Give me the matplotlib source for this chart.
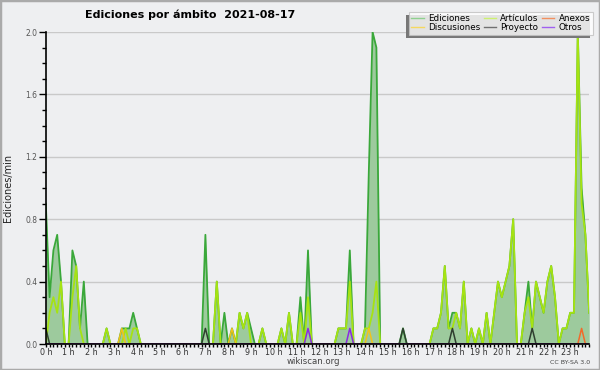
import numpy as np
import matplotlib
matplotlib.use("Agg")
import matplotlib.pyplot as plt
from matplotlib.lines import Line2D
from matplotlib.patches import Rectangle
from matplotlib.ticker import MultipleLocator, FixedLocator

# 10-minute buckets, edits per minute
ediciones = [
    0.9, 0.3, 0.6, 0.7, 0.4, 0, 0, 0.6, 0.5, 0.1, 0.4, 0,       # 0 h - 1 h 50
    0, 0, 0, 0, 0.1, 0, 0, 0, 0.1, 0.1, 0.1, 0.2,               # 2 h - 3 h 50
    0.1, 0, 0, 0, 0, 0, 0, 0, 0, 0, 0, 0,                       # 4 h - 5 h 50
    0, 0, 0, 0, 0, 0, 0.7, 0, 0, 0.4, 0, 0.2,                   # 6 h - 7 h 50
    0, 0.1, 0, 0.2, 0.1, 0.2, 0.1, 0, 0, 0.1, 0, 0,             # 8 h - 9 h 50
    0, 0, 0.1, 0, 0.2, 0, 0, 0.3, 0, 0.6, 0, 0,                 # 10 h - 11 h 50
    0, 0, 0, 0, 0, 0.1, 0.1, 0.1, 0.6, 0, 0, 0,                 # 12 h - 13 h 50
    0.1, 1.1, 2.0, 1.9, 0, 0, 0, 0, 0, 0, 0.1, 0,               # 14 h - 15 h 50
    0, 0, 0, 0, 0, 0, 0.1, 0.1, 0.2, 0.5, 0.1, 0.2,             # 16 h - 17 h 50
    0.2, 0.1, 0.4, 0, 0.1, 0, 0.1, 0, 0.2, 0, 0.2, 0.4,         # 18 h - 19 h 50
    0.3, 0.4, 0.5, 0.8, 0, 0, 0.2, 0.4, 0.1, 0.4, 0.3, 0.2,     # 20 h - 21 h 50
    0.4, 0.5, 0.3, 0, 0.1, 0.1, 0.2, 0.2, 2.0, 1.0, 0.7, 0.2,   # 22 h - 23 h 50
]
articulos = [
    0, 0.2, 0.3, 0.2, 0.4, 0, 0, 0.3, 0.5, 0.1, 0, 0,
    0, 0, 0, 0, 0.1, 0, 0, 0, 0, 0.1, 0, 0.1,
    0.1, 0, 0, 0, 0, 0, 0, 0, 0, 0, 0, 0,
    0, 0, 0, 0, 0, 0, 0, 0, 0, 0.4, 0, 0,
    0, 0, 0, 0.2, 0.1, 0.2, 0, 0, 0, 0.1, 0, 0,
    0, 0, 0.1, 0, 0.2, 0, 0, 0.2, 0, 0.3, 0, 0,
    0, 0, 0, 0, 0, 0.1, 0.1, 0.1, 0.4, 0, 0, 0,
    0.1, 0.1, 0.2, 0.4, 0, 0, 0, 0, 0, 0, 0, 0,
    0, 0, 0, 0, 0, 0, 0.1, 0.1, 0.2, 0.5, 0.1, 0.1,
    0.2, 0.1, 0.4, 0, 0.1, 0, 0.1, 0, 0.2, 0, 0.2, 0.4,
    0.3, 0.4, 0.5, 0.8, 0, 0, 0.2, 0.3, 0.1, 0.4, 0.3, 0.2,
    0.4, 0.5, 0.3, 0, 0.1, 0.1, 0.2, 0.2, 2.0, 0.9, 0.7, 0.2,
]
# sparse series: {bucket index: value}
discusiones = {20: 0.1, 49: 0.1, 85: 0.1}
proyecto = {0: 0.1, 42: 0.1, 94: 0.1, 107: 0.1, 128: 0.1}
anexos = {141: 0.1}
otros = {69: 0.1, 80: 0.1}

hour_labels = ["%d h" % h for h in range(24)]
title = "Ediciones por ámbito  2021-08-17"

bg = "#eeeff1"
c_edic = "#3aa83a"
c_fill = "#9dca9d"
c_art = "#a6e312"
c_disc = "#f2c21a"
c_proy = "#2f3f2f"
c_anex = "#f26a2a"
c_otros = "#8a2be2"


def sparse(d):
    a = np.zeros(144)
    for k, v in d.items():
        a[k] = v
    return a


t = np.arange(144) / 6.0

fig = plt.figure(figsize=(6, 3.7), dpi=100, facecolor=bg)
ax = fig.add_axes([45.8 / 600, 26 / 370, (589.2 - 45.8) / 600, 312 / 370])
ax.set_facecolor(bg)

ax.fill_between(t, 0, ediciones, color=c_fill, lw=0, zorder=2)
ax.plot(t, ediciones, color=c_edic, lw=1.3, zorder=3)
ax.plot(t, articulos, color=c_art, lw=1.3, zorder=4)
ax.plot(t, sparse(discusiones), color=c_disc, lw=1.1, zorder=5)
ax.plot(t, sparse(proyecto), color=c_proy, lw=1.1, zorder=5)
ax.plot(t, sparse(anexos), color=c_anex, lw=1.1, zorder=5)
ax.plot(t, sparse(otros), color=c_otros, lw=1.1, zorder=5)

ax.set_xlim(0, 143 / 6.0)
ax.set_ylim(0, 2.0)

for s in ["top", "right"]:
    ax.spines[s].set_visible(False)
for s in ["left", "bottom"]:
    ax.spines[s].set_color("black")
    ax.spines[s].set_linewidth(1.2)
    ax.spines[s].set_zorder(6)

yt = np.arange(0, 2.01, 0.4)
ax.yaxis.set_major_locator(FixedLocator(yt))
ax.set_yticklabels(["%.1f" % v for v in yt])
ax.yaxis.set_minor_locator(MultipleLocator(0.1))
ax.grid(axis="y", which="major", color="#c9c9c9", lw=1, zorder=1)
ax.set_axisbelow(True)

ax.xaxis.set_major_locator(FixedLocator(range(24)))
ax.set_xticklabels(hour_labels)
ax.xaxis.set_minor_locator(MultipleLocator(1 / 6.0))

ax.tick_params(axis="y", which="major", length=5, width=1, labelsize=5.5,
               labelcolor="#555555", pad=1)
ax.tick_params(axis="y", which="minor", length=3, width=1)
ax.tick_params(axis="x", which="both", length=2.5, width=1, labelsize=5.8,
               labelcolor="#333333", pad=0.3)

ax.set_ylabel("Ediciones/min", fontsize=7, labelpad=9, color="#222222")

fig.text(85 / 600, 1 - 15 / 370, title, fontsize=8, fontweight="bold",
         va="center", ha="left")
fig.text(313 / 600, 1 - 362 / 370, "wikiscan.org", fontsize=6.2,
         color="#444444", ha="center", va="center")
fig.text(590 / 600, 1 - 362 / 370, "CC BY-SA 3.0", fontsize=4.5,
         color="#444444", ha="right", va="center")

handles = [
    Line2D([], [], color="#8fd08f", lw=1),
    Line2D([], [], color="#f5d860", lw=1),
    Line2D([], [], color="#cdf070", lw=1),
    Line2D([], [], color="#707070", lw=1),
    Line2D([], [], color="#f29060", lw=1),
    Line2D([], [], color="#a060f0", lw=1),
]
names = ["Ediciones", "Discusiones", "Artículos", "Proyecto", "Anexos", "Otros"]
leg = fig.legend(handles, names, ncol=3, loc="upper right",
                 bbox_to_anchor=(593 / 600, 1 - 11.5 / 370),
                 fontsize=6.3, frameon=True, fancybox=False,
                 handlelength=1.4, handletextpad=0.5, columnspacing=0.4,
                 labelspacing=0.0, borderpad=0.3, borderaxespad=0)
leg.get_frame().set_edgecolor("#c0c0c0")
leg.get_frame().set_linewidth(0.8)
leg.set_zorder(10)

# shadow of the legend box (offset down-left)
fig.canvas.draw()
bb = leg.get_window_extent()
sh = Rectangle(((bb.x0 - 3) / 600, (bb.y0 - 3) / 370), bb.width / 600, bb.height / 370,
               transform=fig.transFigure, facecolor="#777777", edgecolor="none",
               zorder=9)
fig.add_artist(sh)

# outer frame
fig.add_artist(Rectangle((0, 0), 1, 1, transform=fig.transFigure, fill=False,
                         edgecolor="#aaaaaa", lw=2.5, zorder=20))

fig.savefig("out.png", dpi=100, facecolor=bg)
